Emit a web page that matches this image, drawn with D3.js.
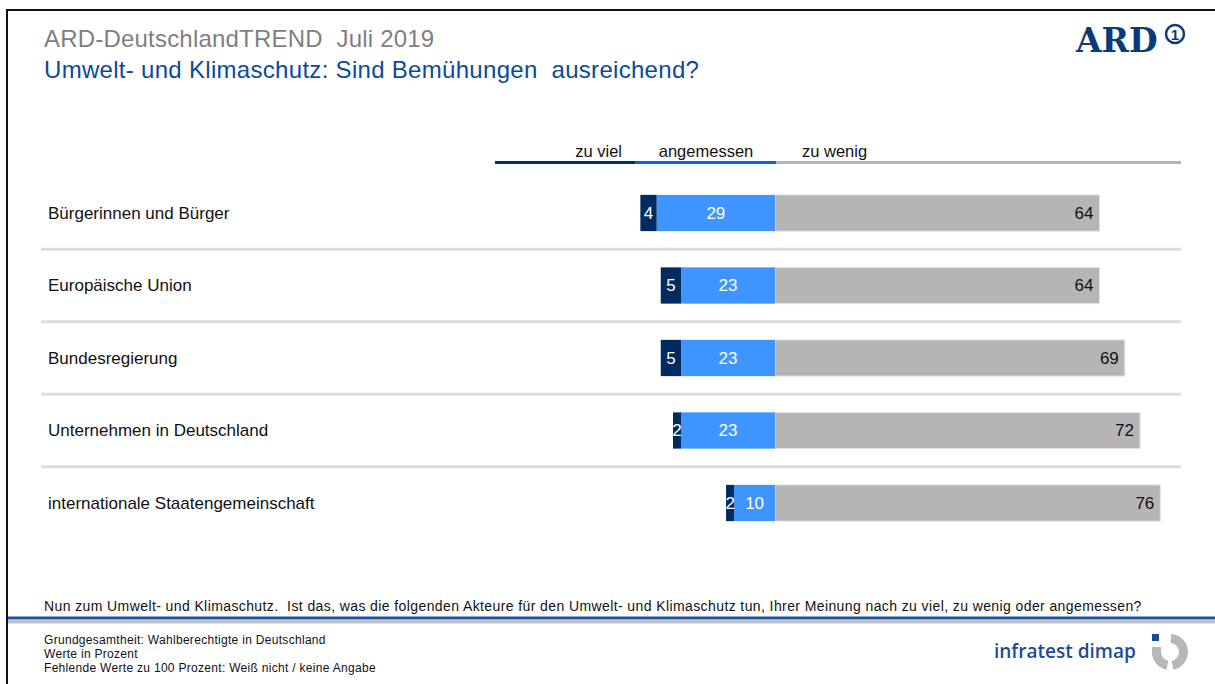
<!DOCTYPE html>
<html>
<head>
<meta charset="utf-8">
<script src="https://cdn.jsdelivr.net/npm/d3@7"></script>
<style>
  html, body { margin: 0; padding: 0; background: #fff; }
</style>
</head>
<body>
<div id="chart"></div>
<script>
// values
const actors = [
  "Bürgerinnen und Bürger",
  "Europäische Union",
  "Bundesregierung",
  "Unternehmen in Deutschland",
  "internationale Staatengemeinschaft"
];
const zu_viel    = [4, 5, 5, 2, 2];
const angemessen = [29, 23, 23, 23, 10];
const zu_wenig   = [64, 64, 69, 72, 76];
const categories = ["zu viel", "angemessen", "zu wenig"];

const title_top = "ARD-DeutschlandTREND  Juli 2019";
const title_sub = "Umwelt- und Klimaschutz: Sind Bemühungen  ausreichend?";
const question  = "Nun zum Umwelt- und Klimaschutz.  Ist das, was die folgenden Akteure für den Umwelt- und Klimaschutz tun, Ihrer Meinung nach zu viel, zu wenig oder angemessen?";
const notes = [
  "Grundgesamtheit: Wahlberechtigte in Deutschland",
  "Werte in Prozent",
  "Fehlende Werte zu 100 Prozent: Weiß nicht / keine Angabe"
];

const width = 1215, height = 684;
const sans = "'Liberation Sans', Arial, sans-serif";
const colors = {
  dark:  "#002b61",
  blue:  "#3f95ff",
  gray:  "#b5b5b5",
  legend: ["#00306b", "#0867dc", "#b5b5b5"]
};

const rows = actors.map((a, i) => ({
  actor: a, viel: zu_viel[i], ang: angemessen[i], wenig: zu_wenig[i]
}));

const svg = d3.select("#chart")
  .append("svg")
    .attr("width", width)
    .attr("height", height)
    .style("font-family", sans);

// frame
svg.append("path")
  .attr("d", `M7,${height} V10 H${width}`)
  .attr("fill", "none")
  .attr("stroke", "#111")
  .attr("stroke-width", 2);

// header
svg.append("text")
  .attr("x", 44).attr("y", 47)
  .attr("font-size", 24)
  .attr("letter-spacing", 0.2)
  .attr("fill", "#7f7f7f")
  .attr("xml:space", "preserve")
  .text(title_top);

svg.append("text")
  .attr("x", 44).attr("y", 78)
  .attr("font-size", 24)
  .attr("letter-spacing", 0.3)
  .attr("fill", "#0a4a9c")
  .attr("xml:space", "preserve")
  .text(title_sub);

// ARD logo
const ard = svg.append("g").attr("fill", "#0b3a78");
ard.append("text")
  .attr("x", 1076).attr("y", 52)
  .style("font-family", "'DejaVu Serif', serif")
  .attr("font-weight", "bold")
  .attr("font-size", 33)
  .text("ARD");
ard.append("circle")
  .attr("cx", 1175).attr("cy", 34).attr("r", 9)
  .attr("fill", "none")
  .attr("stroke", "#0b3a78")
  .attr("stroke-width", 2.5);
ard.append("text")
  .attr("x", 1175).attr("y", 39.5)
  .attr("text-anchor", "middle")
  .attr("font-weight", "bold")
  .attr("font-size", 15)
  .text("1");

// scales: the left and right parts of the picture use different widths per point
const zero_x = 775;
const x_left = d3.scaleLinear().domain([0, 100]).range([zero_x, zero_x - 408]);
const x_right = d3.scaleLinear().domain([0, 100]).range([zero_x, zero_x + 507]);
const y = d3.scaleBand()
  .domain(actors)
  .range([176.75, 539.25])
  .paddingInner(0.5)
  .paddingOuter(0.25);

// legend
const legend_x = [495, 635, 776, 1181];
svg.selectAll("line.legend")
  .data(categories)
  .join("line")
    .attr("class", "legend")
    .attr("x1", (d, i) => legend_x[i])
    .attr("x2", (d, i) => legend_x[i + 1])
    .attr("y1", 162.5).attr("y2", 162.5)
    .attr("stroke", (d, i) => colors.legend[i])
    .attr("stroke-width", 3);

const legend_text_x = [622, 706, 802];
const legend_anchor = ["end", "middle", "start"];
svg.selectAll("text.legend")
  .data(categories)
  .join("text")
    .attr("class", "legend")
    .attr("x", (d, i) => legend_text_x[i])
    .attr("y", 157)
    .attr("text-anchor", (d, i) => legend_anchor[i])
    .attr("font-size", 16.5)
    .attr("fill", "#111")
    .text(d => d);

// row separators
const step = y.step();
svg.selectAll("line.sep")
  .data(actors.slice(1))
  .join("line")
    .attr("class", "sep")
    .attr("x1", 41).attr("x2", 1181)
    .attr("y1", d => y(d) - step * 0.25)
    .attr("y2", d => y(d) - step * 0.25)
    .attr("stroke", "#dcdcdc")
    .attr("stroke-width", 3);

// row labels
svg.selectAll("text.actor")
  .data(rows)
  .join("text")
    .attr("class", "actor")
    .attr("x", 48)
    .attr("y", d => y(d.actor) + y.bandwidth() / 2)
    .attr("dy", "0.35em")
    .attr("font-size", 17)
    .attr("fill", "#111")
    .text(d => d.actor);

// bars
const bars = svg.selectAll("g.row")
  .data(rows)
  .join("g")
    .attr("class", "row")
    .attr("transform", d => `translate(0,${y(d.actor)})`);

const bh = y.bandwidth();

bars.append("rect")
  .attr("x", d => x_right(0))
  .attr("width", d => x_right(d.wenig) - x_right(0))
  .attr("height", bh)
  .attr("fill", colors.gray)
  .attr("stroke", "#e3e3e3")
  .attr("stroke-width", 1);

bars.append("rect")
  .attr("x", d => x_left(d.ang))
  .attr("width", d => x_left(0) - x_left(d.ang))
  .attr("height", bh)
  .attr("fill", colors.blue);

bars.append("rect")
  .attr("x", d => x_left(d.ang + d.viel))
  .attr("width", d => x_left(d.ang) - x_left(d.ang + d.viel))
  .attr("height", bh)
  .attr("fill", colors.dark);

// value labels
bars.append("text")
  .attr("x", d => x_right(d.wenig) - 6)
  .attr("y", bh / 2)
  .attr("dy", "0.35em")
  .attr("text-anchor", "end")
  .attr("font-size", 17)
  .attr("fill", "#111")
  .text(d => d.wenig);

bars.append("text")
  .attr("x", d => (x_left(0) + x_left(d.ang)) / 2)
  .attr("y", bh / 2)
  .attr("dy", "0.35em")
  .attr("text-anchor", "middle")
  .attr("font-size", 17)
  .attr("fill", "#fff")
  .text(d => d.ang);

bars.append("text")
  .attr("x", d => (x_left(d.ang) + x_left(d.ang + d.viel)) / 2)
  .attr("y", bh / 2)
  .attr("dy", "0.35em")
  .attr("text-anchor", "middle")
  .attr("font-size", 17)
  .attr("fill", "#fff")
  .text(d => d.viel);

// footer
svg.append("text")
  .attr("x", 44).attr("y", 611)
  .attr("font-size", 14)
  .attr("letter-spacing", 0.4)
  .attr("fill", "#111")
  .attr("xml:space", "preserve")
  .text(question);

svg.append("line")
  .attr("x1", 8).attr("x2", width)
  .attr("y1", 618).attr("y2", 618)
  .attr("stroke", "#1d4f9e").attr("stroke-width", 3);
svg.append("line")
  .attr("x1", 8).attr("x2", width)
  .attr("y1", 621.5).attr("y2", 621.5)
  .attr("stroke", "#b9c0c9").attr("stroke-width", 4);

svg.selectAll("text.note")
  .data(notes)
  .join("text")
    .attr("class", "note")
    .attr("x", 44)
    .attr("y", (d, i) => 643.5 + i * 14)
    .attr("font-size", 12)
    .attr("letter-spacing", 0.3)
    .attr("fill", "#111")
    .text(d => d);

// infratest dimap logo
svg.append("text")
  .attr("x", 994).attr("y", 658)
  .style("font-family", "'Open Sans', 'Noto Sans', sans-serif")
  .attr("font-weight", 600)
  .attr("font-size", 19)
  .attr("fill", "#1a4c9a")
  .text("infratest dimap");

const logo = svg.append("g").attr("transform", "translate(1170,652)");
const arc = d3.arc().innerRadius(9).outerRadius(18);
logo.append("path")
  .attr("d", arc({ startAngle: 0.02 * Math.PI, endAngle: 0.94 * Math.PI }))
  .attr("fill", "#b7b7b7");
logo.append("path")
  .attr("d", arc({ startAngle: 1.06 * Math.PI, endAngle: 1.5 * Math.PI }))
  .attr("fill", "#b7b7b7");
logo.append("rect")
  .attr("x", -18).attr("y", -5).attr("width", 9).attr("height", 5)
  .attr("fill", "#b7b7b7");
logo.append("rect")
  .attr("x", -18).attr("y", -18).attr("width", 7).attr("height", 7)
  .attr("fill", "#1a4c9a");
</script>
</body>
</html>
